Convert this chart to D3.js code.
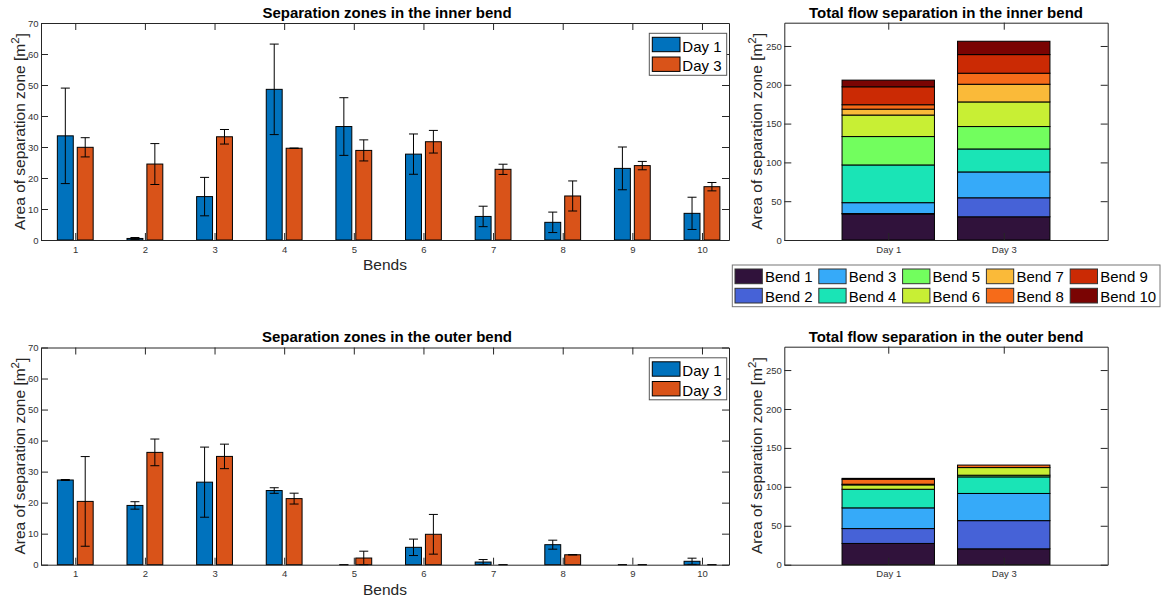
<!DOCTYPE html>
<html>
<head>
<meta charset="utf-8">
<script src="https://cdn.jsdelivr.net/npm/d3@7"></script>
<style>
  body { margin: 0; background: #fff; }
  svg { display: block; font-family: "Liberation Sans", Arial, Helvetica, sans-serif; }
</style>
</head>
<body>
<svg id="fig" width="1175" height="599"></svg>
<script>
// ---- data -------------------------------------------------------------
const bends = [1, 2, 3, 4, 5, 6, 7, 8, 9, 10];
const days = ["Day 1", "Day 3"];
const bendNames = bends.map(b => "Bend " + b);

// inner bend separation areas [m^2] with standard deviations
const innerDay1    = [33.6, 0.5, 14.0, 48.6, 36.6, 27.7, 7.6, 5.7, 23.1, 8.6];
const innerDay1Err = [15.4, 0.3,  6.2, 14.6,  9.3,  6.5, 3.3, 3.3,  6.9, 5.2];
const innerDay3    = [29.9, 24.5, 33.3, 29.6, 28.9, 31.7, 22.8, 14.2, 24.0, 17.2];
const innerDay3Err = [ 3.1,  6.6, 2.35,  0.0,  3.4, 3.65, 1.65, 4.85, 1.35, 1.35];

// outer bend separation areas [m^2] with standard deviations
const outerDay1    = [27.3, 19.1, 26.6, 23.9, 0.0, 5.6, 0.86, 6.45, 0.0, 1.1];
const outerDay1Err = [0.15,  1.2, 11.3,  0.9, 0.0, 2.65, 0.8, 1.45, 0.0, 1.0];
const outerDay3    = [20.4, 36.2, 34.9, 21.3, 2.15, 9.8, 0.0, 3.2, 0.0, 0.0];
const outerDay3Err = [14.45, 4.3, 3.95, 1.75, 2.2, 6.4, 0.0, 0.05, 0.0, 0.0];

const groupTicks = [0, 10, 20, 30, 40, 50, 60, 70];
const totalTicks = [0, 50, 100, 150, 200, 250];

const dayColors = ["#0072BD", "#D95319"];
const bendColors = ["#30123B", "#4662D7", "#36AAF9", "#1AE4B6", "#72FE5E",
                    "#C8EF34", "#FABA39", "#F66B19", "#CB2A04", "#7A0403"];

// ---- layout -----------------------------------------------------------
const svg = d3.select("#fig");
const axisColor = "#262626";
const tickLen = 7;

const panels = {
  innerGroup: { left: 41,    right: 729,    top: 23,    bottom: 240 },
  outerGroup: { left: 41,    right: 729,    top: 347.5, bottom: 564.7 },
  innerTotal: { left: 784.3, right: 1107.7, top: 22.7,  bottom: 240 },
  outerTotal: { left: 784.3, right: 1107.7, top: 346.7, bottom: 564.7 }
};

function styleAxis(sel) {
  sel.selectAll("path.domain").attr("stroke", axisColor).attr("stroke-width", 1);
  sel.selectAll(".tick line").attr("stroke", axisColor).attr("stroke-width", 1);
  sel.selectAll(".tick text").attr("fill", "#333").attr("font-size", 9.5)
     .attr("font-family", "Liberation Sans, Arial, sans-serif");
}

function drawBox(g, x, y, box, xTicks, yTicks, xFormat) {
  const bottom = g.append("g").attr("transform", `translate(0,${box.bottom})`)
    .call(d3.axisBottom(x).tickValues(xTicks).tickFormat(xFormat)
      .tickSizeInner(-tickLen).tickSizeOuter(0).tickPadding(4));
  const top = g.append("g").attr("transform", `translate(0,${box.top})`)
    .call(d3.axisTop(x).tickValues(xTicks).tickFormat("")
      .tickSizeInner(-tickLen).tickSizeOuter(0));
  const left = g.append("g").attr("transform", `translate(${box.left},0)`)
    .call(d3.axisLeft(y).tickValues(yTicks)
      .tickSizeInner(-tickLen).tickSizeOuter(0).tickPadding(2.5));
  const right = g.append("g").attr("transform", `translate(${box.right},0)`)
    .call(d3.axisRight(y).tickValues(yTicks).tickFormat("")
      .tickSizeInner(-tickLen).tickSizeOuter(0));
  [bottom, top, left, right].forEach(styleAxis);
  bottom.selectAll(".tick text").attr("dy", "0.9em");
}

function yLabel(g, cx, cy) {
  const t = g.append("text")
    .attr("transform", `translate(${cx},${cy}) rotate(-90)`)
    .attr("text-anchor", "middle")
    .attr("font-size", 15.5)
    .attr("fill", "#262626");
  t.append("tspan").text("Area of separation zone [m");
  t.append("tspan").attr("dy", "-0.5em").attr("font-size", 11.5).text("2");
  t.append("tspan").attr("dy", "0.5em").text("]");
}

function title(g, cx, baseline, text) {
  g.append("text").attr("x", cx).attr("y", baseline)
    .attr("text-anchor", "middle").attr("font-size", 15)
    .attr("font-weight", "bold").attr("fill", "#000").text(text);
}

// ---- grouped bars with error bars ------------------------------------
function groupedPanel(box, titleText, v1, e1, v3, e3) {
  const g = svg.append("g");
  const x = d3.scaleLinear().domain([0.508, 10.388]).range([box.left, box.right]);
  const y = d3.scaleLinear().domain([0, 70]).range([box.bottom, box.top]);
  const groupWidth = 2 / 3.5;           // two bars per group
  const offset = groupWidth / 4;
  const barW = groupWidth / 2 * 0.8;

  const series = [
    { name: days[0], vals: v1, errs: e1, color: dayColors[0], off: -offset },
    { name: days[1], vals: v3, errs: e3, color: dayColors[1], off: offset }
  ];

  series.forEach(s => {
    const data = bends.map((b, i) => ({ b, v: s.vals[i], e: s.errs[i] }));
    g.append("g").selectAll("rect").data(data).join("rect")
      .attr("x", d => x(d.b + s.off - barW / 2))
      .attr("width", d => x(d.b + s.off + barW / 2) - x(d.b + s.off - barW / 2))
      .attr("y", d => y(d.v))
      .attr("height", d => y(0) - y(d.v))
      .attr("fill", s.color)
      .attr("stroke", "#000").attr("stroke-width", 1);

    const eb = g.append("g").attr("stroke", "#000").attr("stroke-width", 1);
    eb.selectAll("line.v").data(data).join("line").attr("class", "v")
      .attr("x1", d => x(d.b + s.off)).attr("x2", d => x(d.b + s.off))
      .attr("y1", d => y(d.v + d.e)).attr("y2", d => y(Math.max(0, d.v - d.e)));
    eb.selectAll("line.hi").data(data).join("line").attr("class", "hi")
      .attr("x1", d => x(d.b + s.off) - 4.5).attr("x2", d => x(d.b + s.off) + 4.5)
      .attr("y1", d => y(d.v + d.e)).attr("y2", d => y(d.v + d.e));
    eb.selectAll("line.lo").data(data).join("line").attr("class", "lo")
      .attr("x1", d => x(d.b + s.off) - 4.5).attr("x2", d => x(d.b + s.off) + 4.5)
      .attr("y1", d => y(Math.max(0, d.v - d.e))).attr("y2", d => y(Math.max(0, d.v - d.e)));
  });

  drawBox(g, x, y, box, bends, groupTicks, d3.format("d"));
  title(g, (box.left + box.right) / 2 + 2, box.top - 5.5, titleText);
  yLabel(g, 25, (box.top + box.bottom) / 2);
  g.append("text").attr("x", (box.left + box.right) / 2).attr("y", box.bottom + 30)
    .attr("text-anchor", "middle").attr("font-size", 15.5).attr("fill", "#262626")
    .text("Bends");

  // day legend
  const lg = g.append("g");
  const lx = 649.3, ly = box.top + 10.3;
  lg.append("rect").attr("x", lx).attr("y", ly).attr("width", 77.4).attr("height", 42)
    .attr("fill", "#fff").attr("stroke", "#555").attr("stroke-width", 1);
  series.forEach((s, i) => {
    lg.append("rect").attr("x", lx + 3).attr("y", ly + 4 + i * 19.7)
      .attr("width", 27.7).attr("height", 14.4)
      .attr("fill", s.color).attr("stroke", "#000").attr("stroke-width", 1);
    lg.append("text").attr("x", lx + 33).attr("y", ly + 18.4 + i * 19.4)
      .attr("font-size", 15).attr("fill", "#000").text(s.name);
  });
}

// ---- stacked totals ---------------------------------------------------
function totalPanel(box, titleText, v1, v3) {
  const g = svg.append("g");
  const x = d3.scaleLinear().domain([0.1, 2.9]).range([box.left, box.right]);
  const y = d3.scaleLinear().domain([0, 280]).range([box.bottom, box.top]);
  const barW = 0.8;

  const rows = [v1, v3].map((vals, i) => {
    const r = { pos: i + 1 };
    bendNames.forEach((n, j) => { r[n] = vals[j]; });
    return r;
  });
  const stacked = d3.stack().keys(bendNames)(rows);

  stacked.forEach((layer, k) => {
    g.append("g").selectAll("rect").data(layer).join("rect")
      .attr("x", d => x(d.data.pos - barW / 2))
      .attr("width", d => x(d.data.pos + barW / 2) - x(d.data.pos - barW / 2))
      .attr("y", d => y(d[1]))
      .attr("height", d => y(d[0]) - y(d[1]))
      .attr("fill", bendColors[k])
      .attr("stroke", "#000").attr("stroke-width", 1);
  });

  drawBox(g, x, y, box, [1, 2], totalTicks, (d, i) => days[i]);
  title(g, (box.left + box.right) / 2, box.top - 5, titleText);
  yLabel(g, 762, (box.top + box.bottom) / 2);
}

groupedPanel(panels.innerGroup, "Separation zones in the inner bend",
  innerDay1, innerDay1Err, innerDay3, innerDay3Err);
groupedPanel(panels.outerGroup, "Separation zones in the outer bend",
  outerDay1, outerDay1Err, outerDay3, outerDay3Err);
totalPanel(panels.innerTotal, "Total flow separation in the inner bend", innerDay1, innerDay3);
totalPanel(panels.outerTotal, "Total flow separation in the outer bend", outerDay1, outerDay3);

// ---- bend colour legend ----------------------------------------------
(function bendLegend() {
  const g = svg.append("g");
  const bx = 732.3, by = 265;
  g.append("rect").attr("x", bx).attr("y", by).attr("width", 427.7).attr("height", 41.7)
    .attr("fill", "#fff").attr("stroke", "#777").attr("stroke-width", 1);
  bendNames.forEach((n, i) => {
    const col = Math.floor(i / 2), row = i % 2;
    const sx = bx + 2.7 + col * 83.8, sy = by + 4 + row * 19.3;
    g.append("rect").attr("x", sx).attr("y", sy).attr("width", 27.3).attr("height", 14.7)
      .attr("fill", bendColors[i]).attr("stroke", "#333").attr("stroke-width", 1);
    g.append("text").attr("x", sx + 30).attr("y", sy + 13.3)
      .attr("font-size", 15).attr("fill", "#000").text(n);
  });
})();
</script>
</body>
</html>
